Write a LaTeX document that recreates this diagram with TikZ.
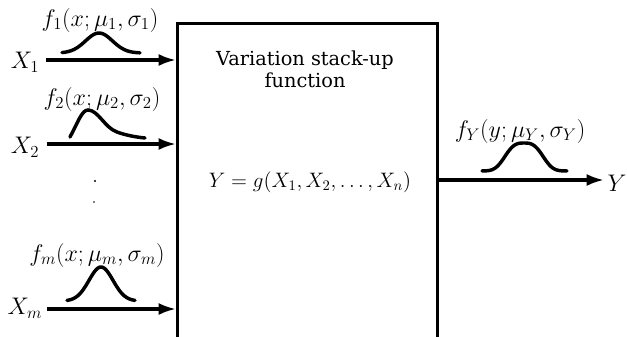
\RequirePackage{fix-cm}
\documentclass[tikz,border=0pt]{standalone}
\usepackage{fontspec}
\setmainfont{DejaVu Serif}
\usetikzlibrary{arrows.meta}
\begin{document}
\begin{tikzpicture}[x=0.75pt,y=-0.75pt,
  arr/.style={line width=2.4pt,-{Latex[length=13pt,width=9pt]}},
  curve/.style={line width=2.6pt,line cap=round},
  lab/.style={inner sep=0pt,font=\fontsize{18}{20}\selectfont},
  txt/.style={inner sep=0pt,align=center,font=\fontsize{14.5}{16.5}\selectfont},
  ]
\useasboundingbox (0,0) rectangle (627,336);
% main box (extends below the picture)
\node[draw,line width=2.4pt,anchor=north west,inner sep=0pt,
      minimum width=195pt,minimum height=250pt] (box) at (176,22) {};
\node[txt] (title) at (305,69) {Variation stack-up\\function};
\node[lab,font=\fontsize{15.7}{18}\selectfont] (eq) at (310,182) {$Y=g(X_1,X_2,\dots,X_n)$};
% inputs
\node[lab] (x1) at (25,62) {$X_1$};
\node[lab] (x2) at (25,147) {$X_2$};
\node[lab] (xm) at (25,308) {$X_m$};
\coordinate (a1) at (46,60);
\coordinate (a2) at (47,144);
\coordinate (am) at (47,309);
\draw[arr] (a1) -- (a1 -| box.west);
\draw[arr] (a2) -- (a2 -| box.west);
\draw[arr] (am) -- (am -| box.west);
% distribution labels
\node[lab] (f1) at (100,20) {$f_1(x;\mu_1,\sigma_1)$};
\node[lab] (f2) at (102,99) {$f_2(x;\mu_2,\sigma_2)$};
\node[lab] (fm) at (97,255) {$f_m(x;\mu_m,\sigma_m)$};
\node[lab] (fy) at (520,131) {$f_Y(y;\mu_Y,\sigma_Y)$};
% distribution curves
\draw[curve] plot[domain=62:140,samples=50] (\x,{53-20*exp(-((\x-99)/19)^2)});
\draw[curve] (70,137) .. controls (78,122) and (82,110) .. (88,110)
  .. controls (98,110) and (105,128) .. (117,132)
  .. controls (125,135) and (135,137) .. (145,138);
\draw[curve] plot[domain=67:135,samples=50] (\x,{301-34*exp(-((\x-101)/17)^2)});
\draw[curve] plot[domain=482:567,samples=50] (\x,{171-28*exp(-(abs((\x-524)/22))^3)});
% dots
\fill (95,181) circle (0.9pt);
\fill (94,202) circle (0.7pt);
% output
\node[lab] (y) at (617,183) {$Y$};
\coordinate (yo) at (604,180);
\draw[arr] (yo -| box.east) -- (yo);
\end{tikzpicture}
\end{document}
